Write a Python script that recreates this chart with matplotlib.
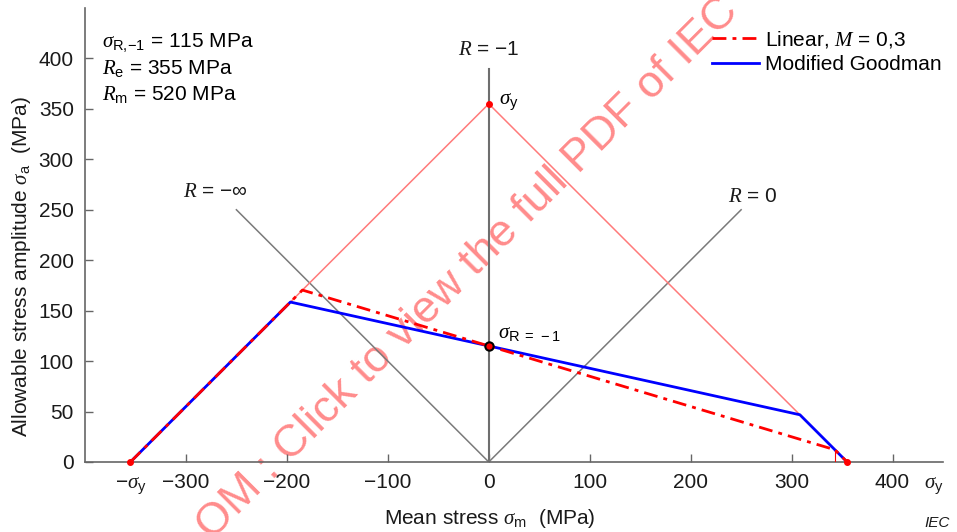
import matplotlib
matplotlib.use('Agg')
import matplotlib.pyplot as plt

### fonts: Arial-like text, Times-like italic math
plt.rcParams['font.family'] = ['Liberation Sans', 'DejaVu Sans']
plt.rcParams['font.size'] = 15
plt.rcParams['mathtext.fontset'] = 'custom'
plt.rcParams['mathtext.it'] = 'Liberation Serif:italic'
plt.rcParams['mathtext.rm'] = 'Liberation Sans'
plt.rcParams['mathtext.sf'] = 'Liberation Sans'

### data (MPa)
sigma_R1 = 115   # fatigue strength at R = -1
Re = 355         # yield strength
Rm = 520         # tensile strength

yield_x = [-355, 0, 355]            # yield triangle
yield_y = [0, 355, 0]
linear_x = [-355, -184.6, 342.9, 355]   # linear, M = 0,3
linear_y = [0, 170.4, 12.1, 0]
goodman_x = [-355, -196.5, 308.2, 355]  # modified Goodman
goodman_y = [0, 158.5, 46.8, 0]
r_neg1_x = [0, 0]          # R = -1
r_neg1_y = [0, 390]
r_zero_x = [0, 250]        # R = 0
r_zero_y = [0, 250]
r_inf_x = [0, -250]        # R = -inf
r_inf_y = [0, 250]
xticks = [-300, -200, -100, 0, 100, 200, 300, 400]
yticks = [0, 50, 100, 150, 200, 250, 300, 350, 400]

fig = plt.figure(figsize=(9.57, 5.32), dpi=100)
ax = fig.add_axes([0.0888, 0.1316, 0.8966, 0.8534])
ax.set_facecolor('none')

grey = '#7a7a7a'
ax.plot(r_neg1_x, r_neg1_y, color='#6e6e6e', lw=1.5, zorder=2)
ax.plot(r_zero_x, r_zero_y, color=grey, lw=1.1, zorder=2)
ax.plot(r_inf_x, r_inf_y, color=grey, lw=1.1, zorder=2)
ax.plot(yield_x, yield_y, color='#ff7a7a', lw=1.1, zorder=2)

ax.plot(linear_x, linear_y, color='#ff0000', lw=2, ls=(0, (5, 2.2, 1.4, 2.2)),
        label='Linear, $M$ = 0,3', zorder=4)
ax.plot(goodman_x, goodman_y, color='#0000ff', lw=2, label='Modified Goodman', zorder=3)
ax.plot([linear_x[2], linear_x[2]], [0, linear_y[2]], color='#ff0000', lw=0.8, zorder=3)

# marker points
ax.plot([-Re, Re, 0], [0, 0, Re], 'o', color='#ff0000', ms=4, zorder=5, clip_on=False)
ax.plot([0], [sigma_R1], 'o', color='#ff0000', mec='black', mew=1.5, ms=6, zorder=6)

ax.set_xlim(-400, 450)
ax.set_ylim(0, 450)
ax.set_xticks(xticks)
ax.set_yticks(yticks)
ax.set_xticklabels(['\u2212300', '\u2212200', '\u2212100', '0', '100', '200', '300', '400'])
for s in ['top', 'right']:
    ax.spines[s].set_visible(False)
for s in ['left', 'bottom']:
    ax.spines[s].set_color('#666666')
    ax.spines[s].set_linewidth(1.2)
ax.tick_params(direction='in', length=6, width=1, color='#666666', labelcolor='#1a1a1a', pad=8)

ax.set_xlabel(r'Mean stress $\sigma_\mathrm{m}$  (MPa)', color='#1a1a1a', labelpad=11, x=0.472)
ax.set_ylabel(r'Allowable stress amplitude $\sigma_\mathrm{a}$  (MPa)', color='#1a1a1a',
              labelpad=4, y=0.43)

# sigma_y labels on the x axis
ax.text(-355, -14, r'$-\sigma_\mathrm{y}$', ha='center', va='top', color='#1a1a1a')
ax.text(441, -14, r'$\sigma_\mathrm{y}$', ha='center', va='top', color='#1a1a1a')

# material data
ax.text(-383, 416, r'$\sigma_{\mathrm{R},\!\mathrm{-1}}$ = 115 MPa', ha='left', va='center')
ax.text(-383, 390, r'$R_\mathrm{e}$ = 355 MPa', ha='left', va='center')
ax.text(-383, 364, r'$R_\mathrm{m}$ = 520 MPa', ha='left', va='center')

# ratio labels
ax.text(0, 409, '$R$ = \u22121', ha='center', va='center', color='#1a1a1a')
ax.text(-271, 268, '$R$ = \u2212\u221e', ha='center', va='center', color='#1a1a1a')
ax.text(262, 263, '$R$ = 0', ha='center', va='center', color='#1a1a1a')
ax.text(10, 356, r'$\sigma_\mathrm{y}$', ha='left', va='center')
ax.text(9, 127, r'$\sigma_\mathrm{R\ =\ -1}$', ha='left', va='center')

ax.legend(loc='upper right', bbox_to_anchor=(1.008, 0.972), frameon=False,
          handlelength=2.25, handletextpad=0.3, labelspacing=0.25, borderaxespad=0)

fig.text(0.992, 0.004, 'IEC', ha='right', va='bottom', fontsize=11, style='italic', color='#1a1a1a')

# watermark
fig.text(0.2215, -0.017, 'OM : Click to view the full PDF of IEC', rotation=45,
         rotation_mode='anchor', ha='left', va='baseline', fontsize=32.5,
         color='#ff5a5a', alpha=0.7, zorder=-1)

fig.savefig('out.png', dpi=100)
